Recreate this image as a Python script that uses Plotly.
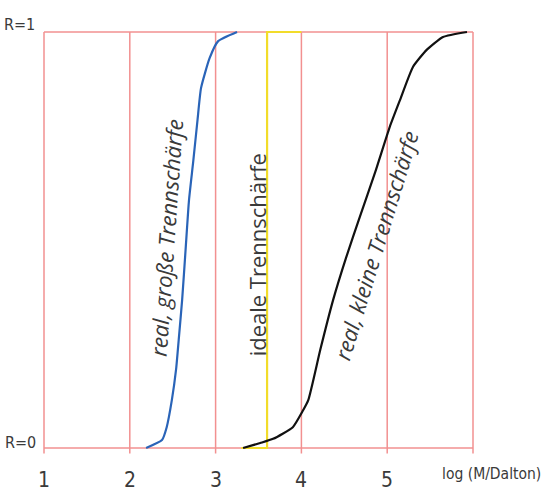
import plotly.graph_objects as go

# data
grid_x = [1, 2, 3, 4, 5, 6]
tick_labels = ["1", "2", "3", "4", "5"]
blue_x = [2.19, 2.375, 2.43, 2.49, 2.54, 2.57, 2.61, 2.65, 2.69, 2.74, 2.79, 2.83, 2.93, 3.03, 3.25]
blue_r = [0.0, 0.019, 0.05, 0.115, 0.19, 0.26, 0.356, 0.476, 0.596, 0.69, 0.79, 0.865, 0.937, 0.978, 1.0]
black_x = [3.32, 3.52, 3.67, 3.90, 4.01, 4.08, 4.22, 4.37, 4.52, 4.68, 4.86, 5.03, 5.15, 5.30, 5.46, 5.65, 5.93]
black_r = [0.0, 0.012, 0.022, 0.05, 0.087, 0.115, 0.236, 0.356, 0.457, 0.555, 0.663, 0.772, 0.837, 0.916, 0.957, 0.988, 1.0]
ideal_x = [3.3, 3.6, 3.6, 4.0]
ideal_r = [0.0, 0.0, 1.0, 1.0]

RED = "#f29090"
TXT = "#3a3a3a"
NARROW = "DejaVu Sans Condensed, Liberation Sans Narrow, sans-serif"
SANS = "Open Sans, Noto Sans, sans-serif"

fig = go.Figure()

shapes = []
for gx in grid_x:
    shapes.append(dict(type="line", xref="x", yref="y", x0=gx, x1=gx, y0=-0.013, y1=1,
                       line=dict(color=RED, width=1.5), layer="below"))
for gy in [0, 1]:
    shapes.append(dict(type="line", xref="x", yref="y", x0=1, x1=6, y0=gy, y1=gy,
                       line=dict(color=RED, width=1.5), layer="below"))

fig.add_trace(go.Scatter(x=ideal_x, y=ideal_r, mode="lines",
                         line=dict(color="#f2dc2a", width=2.2), hoverinfo="skip"))
fig.add_trace(go.Scatter(x=blue_x, y=blue_r, mode="lines",
                         line=dict(color="#2a64b8", width=2.2, shape="spline", smoothing=0.5), hoverinfo="skip"))
fig.add_trace(go.Scatter(x=black_x, y=black_r, mode="lines",
                         line=dict(color="#111111", width=2.2, shape="spline", smoothing=0.5), hoverinfo="skip"))

ann = []
for gx, lab in zip(grid_x, tick_labels):
    ann.append(dict(x=gx, y=-0.077, text=lab, showarrow=False, xref="x", yref="y",
                    font=dict(family=NARROW, size=21, color=TXT)))
ann.append(dict(x=6.22, y=-0.062, text="log (M/Dalton)", showarrow=False, xref="x", yref="y",
                font=dict(family=NARROW, size=15.5, color=TXT)))
ann.append(dict(x=0.72, y=1.017, text="R=1", showarrow=False, xref="x", yref="y",
                font=dict(family=NARROW, size=16, color=TXT)))
ann.append(dict(x=0.73, y=0.014, text="R=0", showarrow=False, xref="x", yref="y",
                font=dict(family=NARROW, size=16, color=TXT)))
ann.append(dict(x=2.42, y=0.505, text="<i>real, große Trennschärfe</i>", showarrow=False,
                xref="x", yref="y", textangle=-86,
                font=dict(family=SANS, size=22, color=TXT)))
ann.append(dict(x=3.48, y=0.465, text="ideale Trennschärfe", showarrow=False,
                xref="x", yref="y", textangle=-90,
                font=dict(family=SANS, size=22, color=TXT)))
ann.append(dict(x=4.87, y=0.487, text="<i>real, kleine Trennschärfe</i>", showarrow=False,
                xref="x", yref="y", textangle=-73,
                font=dict(family=SANS, size=22, color=TXT)))

fig.update_layout(
    width=548, height=495,
    margin=dict(l=0, r=0, t=0, b=0),
    paper_bgcolor="white", plot_bgcolor="white",
    showlegend=False,
    shapes=shapes, annotations=ann,
    xaxis=dict(range=[1 - 44 / 85.8, 1 + 504 / 85.8], visible=False, fixedrange=True),
    yaxis=dict(range=[(448 - 495) / 416, 448 / 416], visible=False, fixedrange=True),
)

fig.write_html("out.html", config={"displayModeBar": False},
               post_script="document.body.style.margin='0';document.body.style.overflow='hidden';")
